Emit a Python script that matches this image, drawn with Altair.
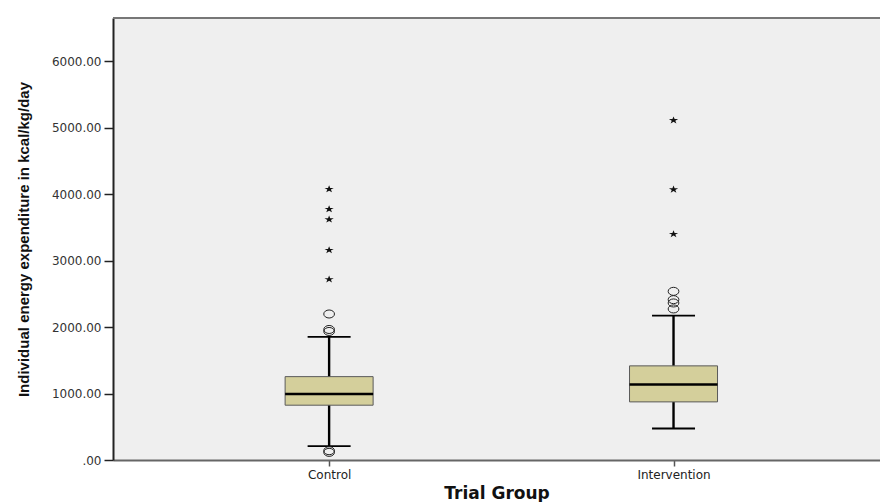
import altair as alt
import pandas as pd

# ---- data ----
groups = ["Control", "Intervention"]
q1 = [825, 875]
median = [995, 1135]
q3 = [1255, 1417]
whisker_low = [208, 474]
whisker_high = [1853, 2173]
control_circles = [2198, 1965, 1935, 140, 115]
control_stars = [4083, 3782, 3627, 3165, 2725]
intervention_circles = [2539, 2414, 2364, 2274]
intervention_stars = [5120, 4078, 3406]
y_ticks = [0, 1000, 2000, 3000, 4000, 5000, 6000]

box_df = pd.DataFrame({
    "g": list(range(len(groups))),
    "group": groups,
    "q1": q1, "median": median, "q3": q3,
    "lo": whisker_low, "hi": whisker_high,
})
circ_df = pd.DataFrame({
    "g": [0] * len(control_circles) + [1] * len(intervention_circles),
    "value": control_circles + intervention_circles,
})
star_df = pd.DataFrame({
    "g": [0] * len(control_stars) + [1] * len(intervention_stars),
    "value": control_stars + intervention_stars,
})

label_expr = "[" + ",".join("'" + g + "'" for g in groups) + "][datum.value]"

def X():
    return alt.X(
        "g:Q",
        scale=alt.Scale(domain=[-0.613, 1.585], nice=False, zero=False),
        axis=alt.Axis(
            values=[0, 1], labelExpr=label_expr, title="Trial Group",
            labelFont="DejaVu Sans", labelFontSize=12, labelColor="#222",
            labelPadding=3, tickSize=6, tickColor="#555", tickWidth=1.5,
            domainColor="#666", domainWidth=2, grid=False,
            titleFont="DejaVu Sans", titleFontSize=17, titleFontWeight="bold",
            titleColor="#111", titlePadding=5,
        ),
    )

def Y(field):
    return alt.Y(
        field + ":Q",
        scale=alt.Scale(domain=[0, 6654], nice=False, zero=True),
        axis=alt.Axis(
            values=y_ticks,
            labelExpr="datum.value == 0 ? '.00' : format(datum.value, '.2f')",
            title="Individual energy expenditure in kcal/kg/day",
            labelFont="DejaVu Sans", labelFontSize=12, labelColor="#333",
            labelPadding=3, tickSize=9, tickColor="#222", tickWidth=1.5,
            domainColor="#222", domainWidth=2, grid=False,
            titleFont="Liberation Sans", titleFontSize=15, titleFontWeight="bold",
            titleColor="#111", titlePadding=20,
        ),
    )

ellipse = "M-1,0A1,0.75,0,1,1,1,0A1,0.75,0,1,1,-1,0Z"
star = ("M0,-0.9L0.281,-0.214L1.189,-0.214L0.454,0.213L0.735,0.904L0,0.477"
        "L-0.735,0.904L-0.454,0.213L-1.189,-0.214L-0.281,-0.214Z")

base = alt.Chart(box_df)

whisker = base.mark_rule(color="black", strokeWidth=2.4).encode(
    x=X(), y=Y("lo"), y2="hi")
box = base.mark_bar(size=88, color="#d4cf9b", stroke="#5a5a5a", strokeWidth=1).encode(
    x=X(), y=Y("q1"), y2="q3")
med = base.mark_tick(orient="horizontal", size=88, thickness=2.5, color="black", opacity=1).encode(
    x=X(), y=Y("median"))
cap_lo = base.mark_tick(orient="horizontal", size=43, thickness=1.8, color="black", opacity=1).encode(
    x=X(), y=Y("lo"))
cap_hi = base.mark_tick(orient="horizontal", size=43, thickness=1.8, color="black", opacity=1).encode(
    x=X(), y=Y("hi"))
circles = alt.Chart(circ_df).mark_point(
    shape=ellipse, size=115, filled=False, stroke="#222", strokeWidth=1, opacity=1
).encode(x=X(), y=Y("value"))
stars = alt.Chart(star_df).mark_point(
    shape=star, size=61, filled=True, color="#111", opacity=1
).encode(x=X(), y=Y("value"))
top_border = alt.Chart(alt.Data(values=[{}])).mark_rule(
    color="#777", strokeWidth=2).encode(y=alt.value(0))

chart = alt.layer(whisker, box, med, cap_lo, cap_hi, circles, stars, top_border).properties(
    width=767, height=442, autosize="none",
    padding={"left": 113, "top": 18, "right": 0, "bottom": 42},
    background="white",
).configure_view(stroke=None, fill="#efefef")

chart.save("out.html", embed_options={"renderer": "svg", "actions": False})
